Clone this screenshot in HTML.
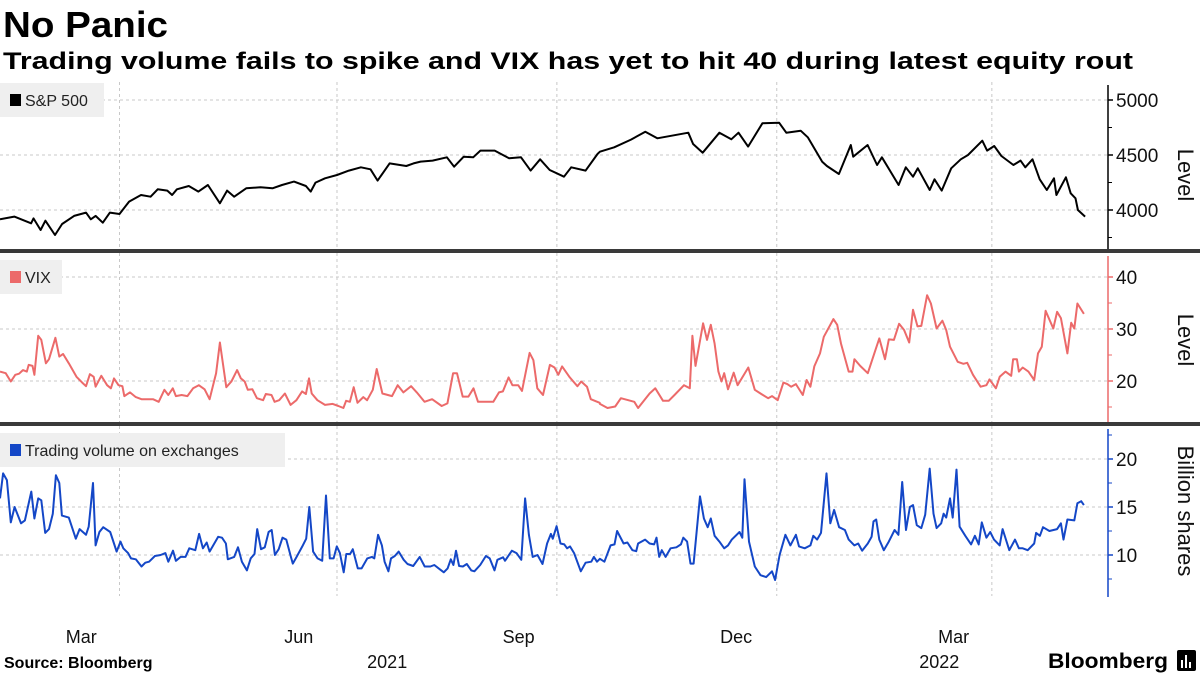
<!DOCTYPE html>
<html><head><meta charset="utf-8"><style>
html,body{margin:0;padding:0;background:#fff;}
svg{display:block;font-family:"Liberation Sans",Arial,sans-serif;}
</style></head><body>
<svg id="chart" width="1200" height="675" viewBox="0 0 1200 675" xmlns="http://www.w3.org/2000/svg">
<text x="3" y="37" font-size="36" font-weight="bold" fill="#000" textLength="165" lengthAdjust="spacingAndGlyphs">No Panic</text>
<text x="3" y="69" font-size="24" font-weight="bold" fill="#000" textLength="1130" lengthAdjust="spacingAndGlyphs">Trading volume fails to spike and VIX has yet to hit 40 during latest equity rout</text>
<g id="grid"></g>
<g id="series"></g>
<g id="axes"></g>
<text x="4" y="668" font-size="16" font-weight="bold" fill="#000">Source: Bloomberg</text>
<text x="1048" y="668" font-size="21" font-weight="bold" fill="#000" textLength="120" lengthAdjust="spacingAndGlyphs">Bloomberg</text>
<g>
<rect x="1177" y="650" width="19" height="21" rx="2" fill="#000"/>
<rect x="1181" y="660" width="2" height="8" fill="#fff"/>
<rect x="1185" y="655" width="2" height="13" fill="#fff"/>
<rect x="1189" y="662" width="2" height="6" fill="#fff"/>
</g>
</svg>
<script>
// ---- data (days since 2021-02-10) ----
const spxDays=[0,6,13,14,17,19,23,26,31,36,38,40,43,46,50,54,59,63,66,70,72,74,79,83,87,92,95,98,103,109,114,118,123,128,130,132,136,141,146,151,155,158,163,170,173,176,181,187,190,194,198,201,207,213,218,222,226,230,236,239,245,250,251,257,264,270,275,288,290,294,301,306,309,313,319,326,329,335,338,344,346,351,356,357,363,367,369,376,379,382,384,389,391,394,398,402,405,411,413,416,419,424,427,429,432,435,438,441,442,446,448,450,451,454];
const spxValues=[3915,3940,3879,3924,3818,3903,3773,3873,3946,3976,3915,3946,3885,3976,3964,4076,4136,4121,4188,4176,4136,4188,4218,4167,4227,4061,4176,4121,4197,4206,4197,4227,4258,4218,4167,4249,4288,4318,4358,4388,4370,4267,4424,4400,4424,4440,4449,4479,4394,4485,4479,4540,4540,4470,4479,4358,4461,4364,4303,4388,4358,4509,4530,4570,4640,4712,4652,4703,4600,4521,4703,4643,4703,4576,4788,4794,4703,4721,4661,4439,4400,4327,4591,4485,4591,4409,4479,4227,4388,4303,4379,4182,4279,4176,4379,4461,4500,4630,4540,4582,4491,4409,4449,4388,4461,4279,4182,4288,4136,4297,4152,4106,4000,3940];
const vixDays=[0,2.4,4.5,6.4,8,9.6,11.2,12,13.6,14.4,16,17.3,19.2,20.5,23.2,24.8,26.4,28.8,32,34.4,36,37.6,39.2,40,42.4,44.8,46.4,47.7,49.6,51.2,52,54.4,56.8,59.2,62.4,64,66.4,68.8,70.4,72.3,73.6,76,78.4,80.8,83.2,85.6,87.7,90.4,92,94.7,96.8,99.2,100.8,102.4,103.7,105.6,107.5,110.1,111.2,113.6,114.9,116.8,119.2,121.6,124,126.4,128,129.3,130.4,132.8,136,139.2,141.6,143.7,144.8,146.4,148,149.6,152,153.6,156,157.6,160,164,166.4,168.8,172,174.4,177.6,180.8,184.8,187.2,189.6,191.2,193.6,196,198.1,200,203.2,206.4,208.8,210.4,212.8,214.4,216.8,218.4,221.6,223.2,224.8,227.2,230.1,232,233.6,235.2,238.4,241.6,243.2,245.6,247.2,250.9,
251,254.2,257.4,259.8,265.4,267,271.8,274.2,277.4,279.8,282.2,286.2,288.6,289.7,291,294.2,295.8,297.4,299,300.6,301.9,303,304.6,307,308.6,313.1,315.8,318.2,321.4,323,325.4,327.8,329.4,331,333,335.9,337.5,339.1,340.7,343.1,344.7,348.7,350.3,351.9,355.1,356.7,357.5,359.9,363.1,366.3,367.9,370.3,371.9,374,376.2,378.3,380.4,382,383.9,385.5,387.9,389.5,391.9,394.3,395.9,397.5,400.7,403.1,404.7,407.1,410.3,412.7,414,416.7,418.3,420.7,423.1,423.9,425.5,426.3,427.9,430.3,432.7,434.3,435.9,437.5,440.7,442.3,443.9,446.6,448.2,449.5,450.8,453.5];
const vixValues=[21.8,21.5,19.9,21.2,21.4,22.1,21.8,23.1,22.9,21.2,28.7,27.9,23.4,24.2,28.3,24.7,25.2,23.4,20.8,19.7,19.0,21.3,20.8,18.9,21.0,19.2,18.6,20.5,19.2,19.0,17.1,17.8,16.9,16.5,16.5,16.5,16.0,18.3,17.3,18.6,17.1,17.3,17.1,18.6,19.2,18.4,16.5,21.5,27.4,18.8,19.9,22.1,20.5,19.9,18.3,18.4,16.7,16.3,17.5,17.3,16.0,16.3,17.6,15.4,16.3,18.0,17.5,20.5,17.6,16.3,15.4,15.6,15.2,14.8,16.2,16.0,18.8,15.8,16.9,16.3,18.3,22.3,17.6,17.1,19.2,17.8,19.0,17.8,16.0,16.5,15.2,15.7,21.5,21.5,17.0,17.0,18.6,16.0,16.0,16.0,17.8,18.0,20.7,19.2,19.2,18.1,25.4,24.0,18.6,17.3,23.1,22.6,21.2,22.8,20.7,19.0,19.9,18.9,16.5,15.8,
15.6,14.8,15.1,16.7,16.0,14.8,17.6,18.6,16.2,16.2,17.3,19.2,18.6,28.7,22.9,31.1,27.9,30.8,27.2,21.8,19.9,21.5,18.4,21.6,19.2,22.6,18.3,17.6,16.7,17.1,16.3,19.7,19.4,18.9,19.4,17.3,20.2,18.9,22.8,25.3,28.5,31.9,30.8,27.2,21.8,21.8,24.2,22.9,21.5,26.0,28.2,24.2,28.0,27.9,31.0,29.8,27.4,33.7,30.5,30.6,36.5,34.9,30.1,31.6,29.8,26.6,23.7,23.3,23.5,21.2,18.9,19.2,20.3,18.6,20.8,21.8,21.0,24.2,24.2,21.8,22.6,21.8,20.2,25.3,26.6,33.5,30.1,33.3,32.1,25.3,31.2,30.1,34.9,32.9];
const volDays=[0,1.3,2.9,4.5,6.1,8.8,10.4,13.1,14.4,16,17.3,18.9,20.5,22.1,23.4,24.8,25.9,28.8,31.7,33.3,36,37.1,38.9,40,41.6,43.2,46.1,47.7,48.8,50.4,51.6,53.6,54.8,56.8,59.2,60.8,62.4,64.8,67.2,69.2,70.4,72.4,73.6,75.6,77.6,79.2,81.7,83.3,84.9,86.5,87.7,91.3,92.9,94.5,95.3,98,99.6,101.2,103.3,104.9,106.5,107.6,109.2,110.8,112.4,113.7,115,116.6,118.2,119.8,121.7,122.5,124.1,126.5,128.1,129.4,131,132.9,134.8,136.4,138,139.6,140.9,142.2,143.8,144.9,146.5,147.6,149.7,151.3,153.7,155.6,156.6,158.2,159.8,160.9,162.5,163.6,165.2,166.8,168.9,170.5,172.9,175.6,177.7,180.1,181.7,184.1,185.7,187.3,188.6,189.7,190.8,192.1,193.7,195.3,197.2,198.5,200.9,203.3,204.9,206.9,208.1,210.5,211.3,214.2,216.1,218.1,219.7,221.3,222.9,224.9,227,228.9,230.5,231.3,232.9,234.5,236.1,237.3,238.5,240.2,243,245,247.4,248.5,249.8,
251,252.9,255.5,257.1,258.2,260.9,262.5,264.6,266.2,267,269.9,271.8,273.7,274.7,275.8,276.9,278.5,280.6,283,284.9,285.9,287.5,288.9,290.2,292.9,294.5,296.1,297.4,299,301,303,304.6,306.2,309.4,310.6,311.5,313.4,315.8,318.2,320.6,323,324.3,326.2,328.6,330.7,333,334.3,336.7,339.1,340.3,341.9,343.5,345.8,347.4,349,351.1,353.5,355.1,357.5,359.1,360.7,363.1,364.7,365.5,366.6,367.9,369.8,371.9,374.3,375.9,377.5,379.1,380.7,382,383.6,385.5,387.1,389,390.6,391.9,393.8,394.8,395.9,397.5,398.6,400.2,401.5,403.9,406.3,407.9,409.5,410.8,412.7,414.3,415.9,418.3,419.5,422.3,424.7,426.3,427.9,430,432.7,433.5,435.1,436.4,439.1,442.3,443.9,445,446.6,449.5,450.8,452.4,453.5];
const volValues=[15.9,18.5,17.8,13.4,15.0,13.3,13.6,16.6,13.8,15.9,15.7,12.3,12.7,14.3,18.3,17.5,14.1,13.9,11.7,12.7,12.1,12.95,17.5,11.0,12.4,12.9,12.4,11.2,10.35,11.4,10.7,10.2,9.65,9.55,8.8,9.2,9.3,9.9,10.0,10.2,9.3,10.45,9.4,9.8,9.8,10.7,10.5,12.2,10.7,11.3,10.35,11.9,11.8,11.2,9.55,9.8,10.8,9.3,8.4,9.65,10.1,12.7,10.6,10.8,12.4,12.6,10.0,10.6,11.8,11.6,9.8,9.1,9.8,10.9,11.7,15.0,10.35,9.65,9.4,16.2,9.65,9.65,10.9,10.2,8.2,10.1,10.1,10.6,8.6,8.6,9.65,9.8,9.65,12.1,11.0,9.3,8.3,9.65,9.9,10.35,9.5,9.06,8.85,9.8,8.8,8.8,8.96,8.5,8.2,8.6,9.55,8.96,10.45,8.85,8.8,9.06,8.4,8.3,8.96,9.9,9.65,8.4,9.5,9.76,9.4,10.45,10.2,9.5,15.9,12.1,9.8,10.0,9.06,11.2,12.2,11.7,13.0,11.2,11.1,10.7,10.9,10.2,8.3,9.2,9.3,9.8,9.3,
9.6,9.3,11.0,11.1,12.5,11.2,11.3,10.5,10.4,11.2,11.6,11.2,11.1,11.8,9.8,10.5,9.8,10.7,10.8,11.1,11.8,11.4,9.1,9.1,16.1,13.8,12.9,13.8,12.0,11.4,10.7,11.0,11.6,12.4,11.8,17.9,11.4,8.8,7.9,7.7,8.3,7.4,10.0,12.1,11.0,12.1,10.9,10.7,11.0,12.0,11.6,12.3,18.5,13.3,14.7,12.9,12.6,11.6,11.0,11.2,10.45,11.2,11.9,13.5,13.7,11.6,10.5,11.4,12.6,12.1,17.6,12.6,15.0,15.2,13.1,12.8,14.2,19.0,14.3,12.8,13.3,14.3,13.9,15.9,13.9,18.9,12.95,12.0,11.1,12.0,11.1,13.4,11.8,12.4,11.6,11.0,12.7,10.5,11.6,10.7,10.7,10.5,11.2,12.3,12.0,12.9,12.5,12.7,13.3,11.6,13.7,13.6,15.4,15.6,15.2];
const monthLabels=["Mar","Jun","Sep","Dec","Mar"];
const monthLabelDays=[34,125,217,308,399];
const quarterDays=[50,141,233,325,415];
const yearLabels=["2021","2022"];
const yearLabelDays=[162,393];
const spxTicks=[4000,4500,5000], spxMinor=[3750,4250,4750];
const vixTicks=[20,30,40], vixMinor=[15,25,35];
const volTicks=[10,15,20], volMinor=[7.5,12.5,17.5,22.5];

// ---- scales ----
const NS="http://www.w3.org/2000/svg";
const xS=d=>d*2.39;
const ySpx=v=>100+(5000-v)*0.11;
const yVix=v=>329-(v-30)*5.2;
const yVol=v=>507-(v-15)*9.6;
const AX=1108;
function mk(tag,attrs,parent){const e=document.createElementNS(NS,tag);for(const k in attrs)e.setAttribute(k,attrs[k]);parent.appendChild(e);return e;}
const grid=document.getElementById('grid'),series=document.getElementById('series'),axes=document.getElementById('axes');

const panels=[
 {top:82,bot:249,ticks:spxTicks,minor:spxMinor,y:ySpx,color:"#000",axColor:"#000",days:spxDays,vals:spxValues,name:"sp500",legend:"S&P 500",lw:104,title:"Level",titleY:175},
 {top:253,bot:422,ticks:vixTicks,minor:vixMinor,y:yVix,color:"#ec6a6a",axColor:"#ec6a6a",days:vixDays,vals:vixValues,name:"vix",legend:"VIX",lw:62,title:"Level",titleY:340},
 {top:426,bot:596,ticks:volTicks,minor:volMinor,y:yVol,color:"#1447c7",axColor:"#1447c7",days:volDays,vals:volValues,name:"volume",legend:"Trading volume on exchanges",lw:285,title:"Billion shares",titleY:511}
];
panels.forEach((p,pi)=>{
  p.ticks.forEach(t=>{
    const l=mk('line',{x1:0,x2:AX,y1:p.y(t),y2:p.y(t),stroke:"#c8c8c8","stroke-dasharray":"3,3","stroke-width":1},grid);
    
    
  });
  quarterDays.forEach(d=>{
    const l=mk('line',{x1:xS(d),x2:xS(d),y1:p.top,y2:p.bot,stroke:"#c8c8c8","stroke-dasharray":"3,3","stroke-width":1},grid);
    
    
  });
  const pts=p.days.map((d,i)=>xS(d).toFixed(1)+","+p.y(p.vals[i]).toFixed(1)).join(" ");
  const pl=mk('polyline',{points:pts,fill:"none",stroke:p.color,"stroke-width":2,"stroke-linejoin":"round"},series);
  
  
  const lg=mk('g',{},axes);
  
  
  mk('rect',{x:0,y:p.top+(pi==0?1:7),width:p.lw,height:34,fill:"#efefef"},lg);
  mk('rect',{x:10,y:p.top+(pi==0?12:18),width:11,height:12,fill:p.color},lg);
  const lt=mk('text',{x:25,y:p.top+(pi==0?24:30),"font-size":16,fill:"#222"},lg);
  lt.textContent=p.legend;
  const ax=mk('line',{x1:AX,x2:AX,y1:p.top+3,y2:p.bot+1,stroke:p.axColor,"stroke-width":1.5},axes);
  
  
  p.ticks.forEach(t=>{
    mk('line',{x1:AX,x2:AX+5,y1:p.y(t),y2:p.y(t),stroke:p.axColor,"stroke-width":1.5},axes);
    const tl=mk('text',{x:AX+8,y:p.y(t)+7,"font-size":19,fill:"#111"},axes);
    tl.textContent=t;
    
    
  });
  p.minor.forEach(t=>{
    const yy=p.y(t); if(yy<p.top||yy>p.bot)return;
    mk('line',{x1:AX,x2:AX+4,y1:yy,y2:yy,stroke:p.axColor,"stroke-width":1},axes);
  });
  const at=mk('text',{x:1178,y:p.titleY,"font-size":22,fill:"#111","text-anchor":"middle",transform:"rotate(90 1178 "+p.titleY+")"},axes);
  at.textContent=p.title;
  
  
});
[249,422].forEach(y=>{
  const s=mk('rect',{x:0,y:y,width:1200,height:4,fill:"#3a3a3a"},axes);
  
  
});
monthLabels.forEach((m,i)=>{
  const t=mk('text',{x:xS(monthLabelDays[i]),y:643,"font-size":18,fill:"#111","text-anchor":"middle"},axes);
  t.textContent=m;
  
  
});
yearLabels.forEach((m,i)=>{
  const t=mk('text',{x:xS(yearLabelDays[i]),y:668,"font-size":18,fill:"#111","text-anchor":"middle"},axes);
  t.textContent=m;
  
  
});
</script>
</body></html>
